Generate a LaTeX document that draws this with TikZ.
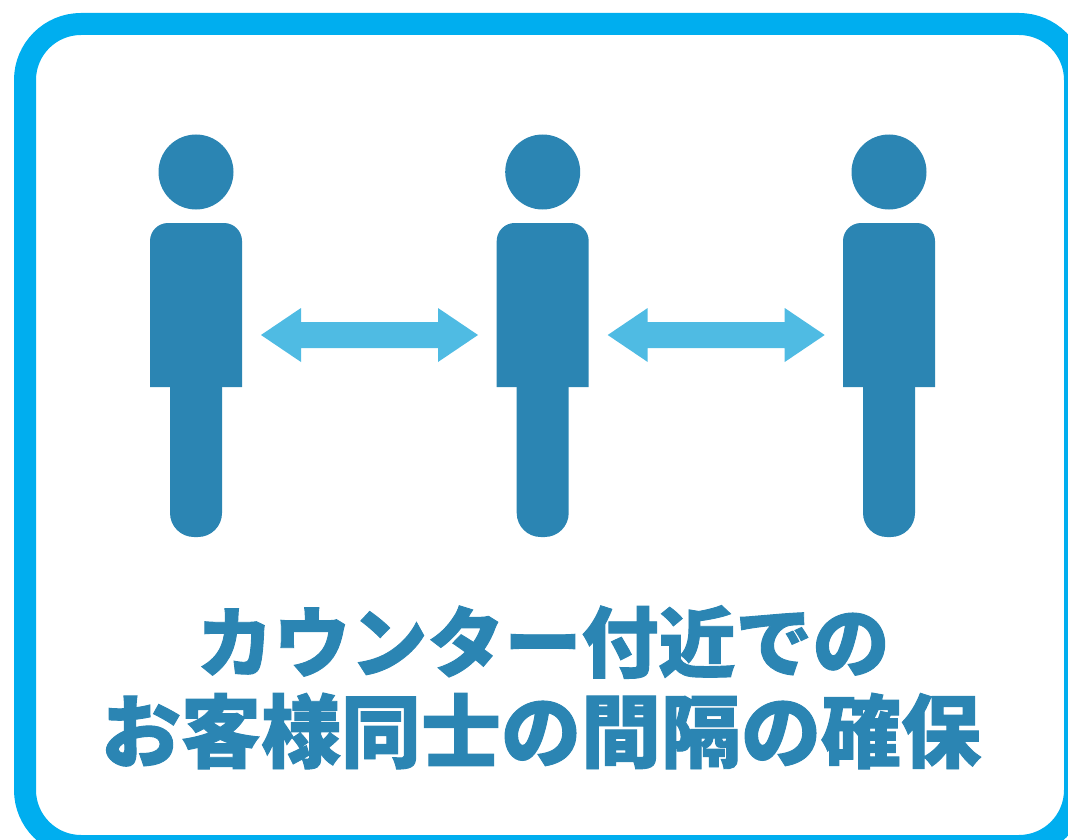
\documentclass[tikz,border=0pt]{standalone}
\usepackage{fontspec}
\newfontfamily\cjk[FakeBold=1.2]{Noto Sans CJK JP Black}
\definecolor{personblue}{HTML}{2B85B3}
\definecolor{arrowblue}{HTML}{4FBBE3}
\definecolor{frameblue}{HTML}{00AEEF}
\tikzset{
  personfill/.style={fill=personblue,draw=none},
  arrowfill/.style={fill=arrowblue,draw=none},
  caption/.style={text=personblue,inner sep=0pt,font=\cjk\fontsize{80}{80}\selectfont},
  captionone/.style={text=personblue,inner sep=0pt,font=\cjk\fontsize{77}{77}\selectfont}
}
\begin{document}
\begin{tikzpicture}[x=1pt,y=-1pt]
\useasboundingbox (0,0) rectangle (1068,840);
\begin{scope}
\clip (0,0) rectangle (1068,840);
\draw[frameblue,line width=22pt,rounded corners=56pt] (25,24) rectangle (1075,846);
\end{scope}
\foreach \cx in {196,542.7,889}{
  \begin{scope}[shift={(\cx,0)}]
    \fill[personfill] (0,172) circle (37.5);
    \fill[personfill,rounded corners=18pt] (-46,387) [sharp corners] -- (-46,300) [rounded corners=18pt] -- (-46,223) -- (46,223) -- (46,300) [sharp corners] -- (46,387) -- cycle;
    \fill[personfill,rounded corners=24pt] (-26,386) [sharp corners] -- (-26,450) [rounded corners=24pt] -- (-26,537) -- (26,537) -- (26,450) [sharp corners] -- (26,386) -- cycle;
  \end{scope}
}
\foreach \ax in {261,607.7}{
  \begin{scope}[shift={(\ax,0)}]
    \fill[arrowfill] (0,335) -- (40,308) -- (40,322) -- (177,322) -- (177,308) -- (217,335) -- (177,362) -- (177,348) -- (40,348) -- (40,362) -- cycle;
  \end{scope}
}
\node[captionone] (lineone) at (543,642) {カウンター付近での};
\node[caption] (linetwo) at (541,731) {お客様同士の間隔の確保};
\end{tikzpicture}
\end{document}
